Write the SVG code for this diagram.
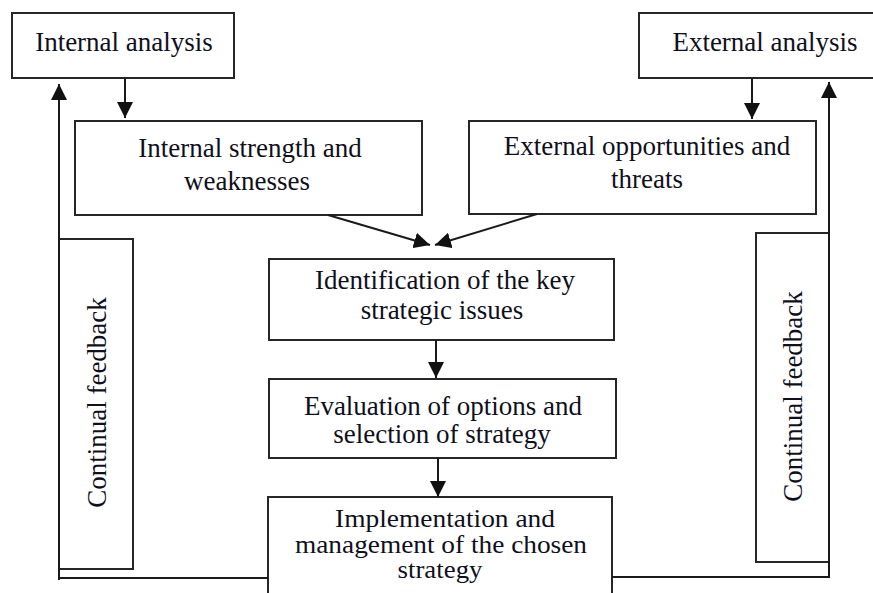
<svg xmlns="http://www.w3.org/2000/svg" width="873" height="593" viewBox="0 0 873 593">
<style>
.box{fill:#fff;stroke:#262626;stroke-width:2}
.t{font-family:"Liberation Serif","Times New Roman",serif;font-size:27px;fill:#10101c;text-anchor:middle}
.s{font-size:25px}
.c{fill:none;stroke:#1a1a1a;stroke-width:2}
</style>
<defs>
<marker id="ah" markerUnits="userSpaceOnUse" markerWidth="16" markerHeight="16" refX="16" refY="8" orient="auto">
<path d="M0,0 L16,8 L0,16 z" fill="#111"/>
</marker>
</defs>
<rect width="873" height="593" fill="#fff"/>
<g id="internal-analysis">
<rect class="box" x="12" y="13" width="222" height="65"/>
<text class="t" x="124" y="51">Internal analysis</text>
</g>
<g id="external-analysis">
<rect class="box" x="639" y="13" width="250" height="65"/>
<text class="t" x="765" y="51">External analysis</text>
</g>
<g id="internal-strength">
<rect class="box" x="75" y="121" width="347" height="94"/>
<text class="t" x="250" y="157">Internal strength and</text>
<text class="t" x="247" y="190">weaknesses</text>
</g>
<g id="external-opportunities">
<rect class="box" x="469" y="121" width="347" height="93"/>
<text class="t" x="647" y="155">External opportunities and</text>
<text class="t" x="647" y="188">threats</text>
</g>
<g id="identification">
<rect class="box" x="269" y="259" width="345" height="81"/>
<text class="t" x="445" y="289">Identification of the key</text>
<text class="t" x="442" y="319">strategic issues</text>
</g>
<g id="evaluation">
<rect class="box" x="269" y="379" width="347" height="79"/>
<text class="t" x="443" y="415">Evaluation of options and</text>
<text class="t" x="442" y="443">selection of strategy</text>
</g>
<g id="implementation">
<rect class="box" x="268" y="497" width="344" height="110"/>
<text class="t s" x="445" y="527" textLength="220" lengthAdjust="spacingAndGlyphs">Implementation and</text>
<text class="t s" x="441" y="553" textLength="292" lengthAdjust="spacingAndGlyphs">management of the chosen</text>
<text class="t s" x="440" y="578" textLength="85" lengthAdjust="spacingAndGlyphs">strategy</text>
</g>
<g id="feedback-left">
<rect class="box" x="59" y="239" width="74" height="330"/>
<text class="t" transform="translate(106,402.5) rotate(-90)" x="0" y="0">Continual feedback</text>
</g>
<g id="feedback-right">
<rect class="box" x="756" y="233" width="73" height="329"/>
<text class="t" transform="translate(802,396.5) rotate(-90)" x="0" y="0">Continual feedback</text>
</g>
<g id="connectors">
<line class="c" x1="125" y1="78" x2="125" y2="118" marker-end="url(#ah)"/>
<line class="c" x1="752" y1="78" x2="752" y2="119" marker-end="url(#ah)"/>
<line class="c" x1="328" y1="215" x2="430" y2="245" marker-end="url(#ah)"/>
<line class="c" x1="537" y1="214" x2="435" y2="245" marker-end="url(#ah)"/>
<line class="c" x1="436" y1="340" x2="436" y2="378" marker-end="url(#ah)"/>
<line class="c" x1="438" y1="458" x2="438" y2="497" marker-end="url(#ah)"/>
<polyline class="c" points="268,578 59,578 59,580"/>
<line class="c" x1="59" y1="580" x2="59" y2="84" marker-end="url(#ah)"/>
<polyline class="c" points="612,577 829,577"/>
<line class="c" x1="829" y1="578" x2="829" y2="82" marker-end="url(#ah)"/>
</g>
</svg>
